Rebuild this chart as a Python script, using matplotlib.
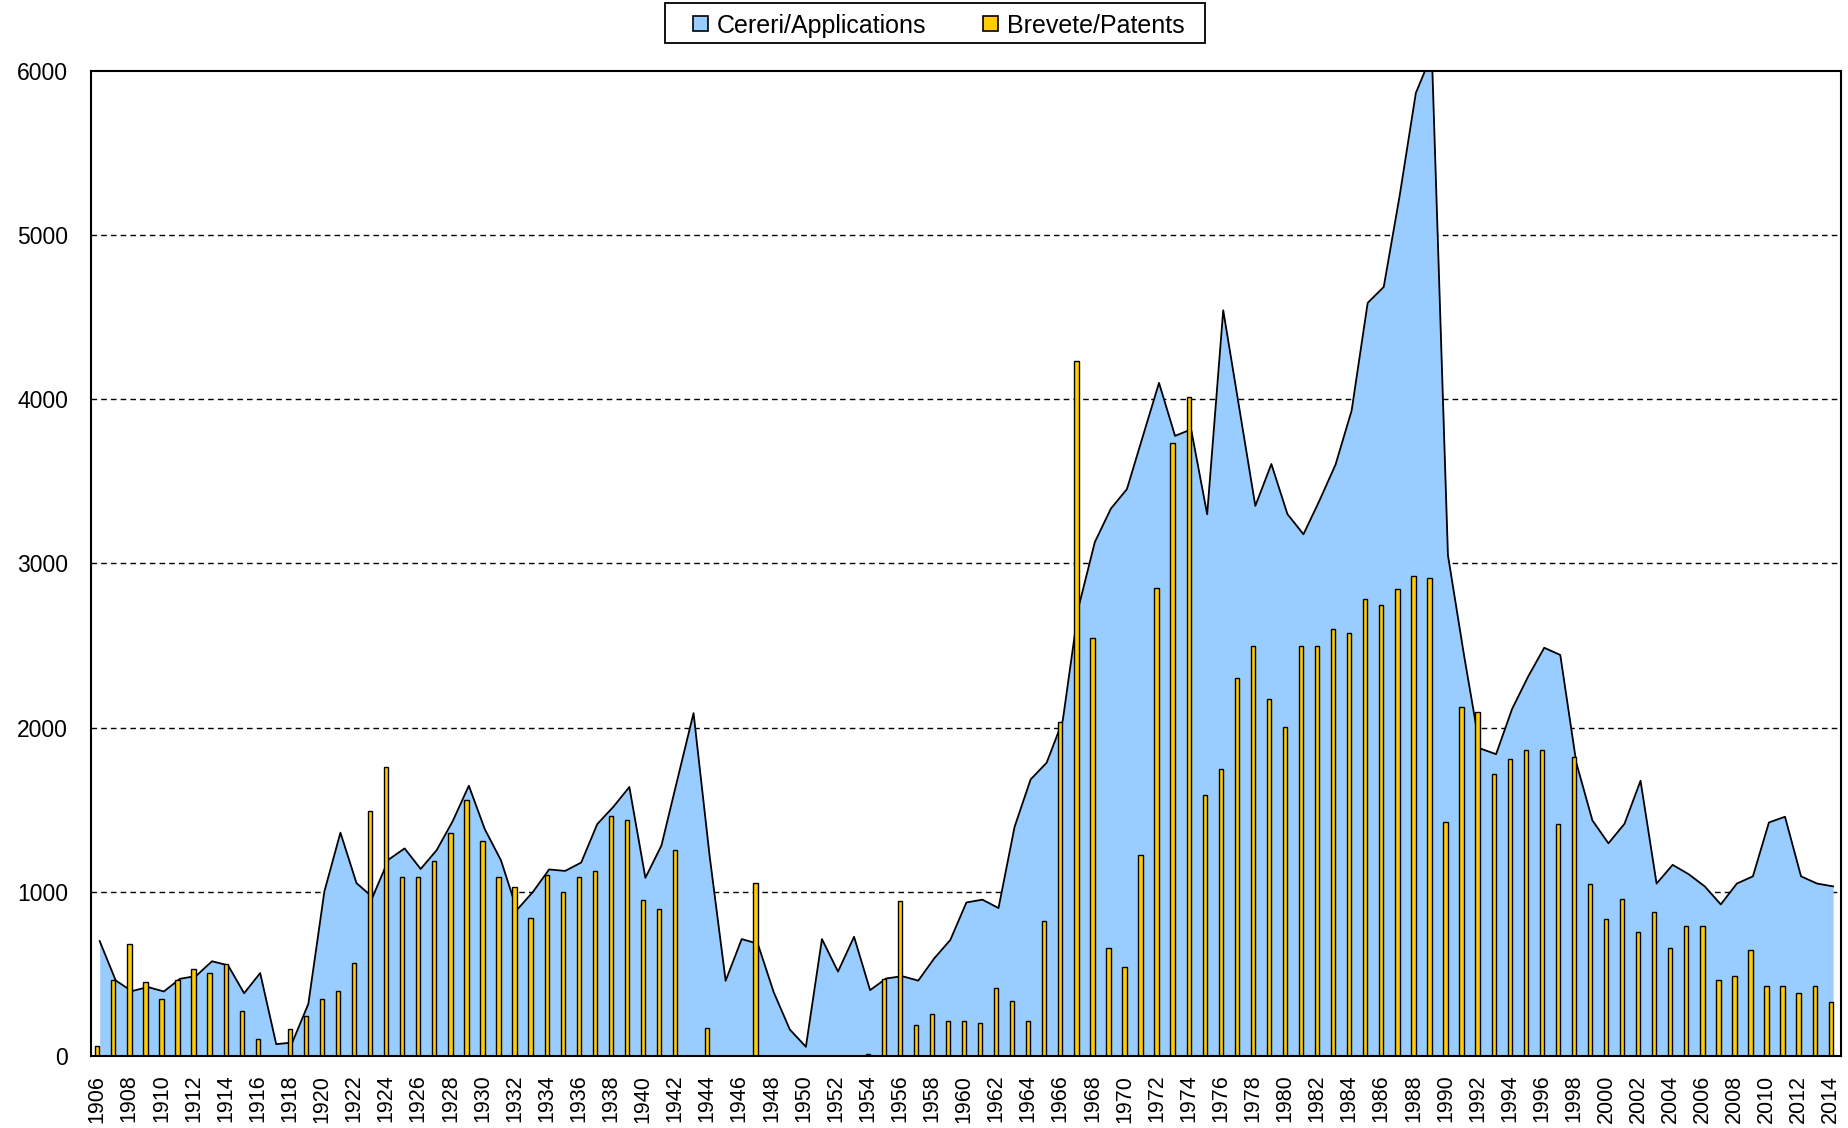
import numpy as np
import matplotlib
matplotlib.use("Agg")
import matplotlib.pyplot as plt
from matplotlib.patches import Rectangle

years = np.arange(1906, 2015)

# Cereri / Applications (area)
applications = [
    700, 460, 395, 420, 393, 470, 487, 577, 552, 382,      # 1906-1915
    505, 72, 82, 317, 1002, 1360, 1053, 967, 1196, 1264,   # 1916-1925
    1139, 1254, 1431, 1646, 1380, 1192, 890, 1000, 1136, 1127,  # 1926-1935
    1178, 1412, 1517, 1638, 1085, 1282, 1686, 2088, 1220, 458,  # 1936-1945
    712, 684, 387, 161, 56, 712, 514, 726, 401, 472,       # 1946-1955
    486, 459, 595, 707, 935, 952, 901, 1395, 1684, 1786,   # 1956-1965
    2041, 2738, 3129, 3333, 3452, 3776, 4099, 3776, 3816, 3299,  # 1966-1975
    4541, 3946, 3350, 3605, 3300, 3177, 3383, 3602, 3930, 4586,  # 1976-1985
    4683, 5243, 5864, 6100, 3050, 2442, 1873, 1838, 2114, 2311,  # 1986-1995
    2486, 2442, 1785, 1435, 1295, 1414, 1676, 1050, 1164, 1107,  # 1996-2005
    1033, 923, 1050, 1094, 1422, 1457, 1094, 1050, 1033,   # 2006-2014
]

# Brevete / Patents (bars)
patents = [
    61, 460, 681, 450, 348, 460, 528, 507, 562, 276,       # 1906-1915
    102, 0, 164, 241, 348, 393, 566, 1493, 1759, 1090,     # 1916-1925
    1090, 1186, 1356, 1560, 1311, 1093, 1031, 839, 1102, 1000,  # 1926-1935
    1093, 1127, 1460, 1438, 952, 895, 1254, 0, 169, 0,     # 1936-1945
    0, 1056, 0, 0, 0, 0, 0, 0, 10, 470,                    # 1946-1955
    945, 187, 258, 211, 211, 200, 415, 337, 211, 820,      # 1956-1965
    2034, 4235, 2544, 656, 544, 1221, 2850, 3735, 4010, 1588,  # 1966-1975
    1748, 2299, 2497, 2177, 2002, 2494, 2494, 2600, 2578, 2783,  # 1976-1985
    2748, 2845, 2923, 2910, 1427, 2127, 2092, 1716, 1807, 1864,  # 1986-1995
    1864, 1414, 1821, 1050, 832, 954, 757, 875, 656, 792,  # 1996-2005
    792, 464, 486, 648, 429, 429, 385, 429, 328,           # 2006-2014
]

labels = ["Cereri/Applications", "Brevete/Patents"]

applications = np.array(applications, dtype=float)
patents = np.array(patents, dtype=float)

area_color = "#99CCFF"
bar_color = "#FFCC00"
W, H = 1849, 1128
fonts = ["Liberation Sans", "DejaVu Sans"]

fig = plt.figure(figsize=(W / 100, H / 100), dpi=100)
ax = fig.add_axes([0.04922, 0.06383, 0.94646, 0.87349])

# area series sits slightly right of the bar centres
ax.fill_between(years + 0.15, applications, 0, color=area_color, linewidth=0, zorder=1)
ax.plot(years + 0.15, applications, color="black", linewidth=1.3, zorder=2)

mask = patents > 0
ax.bar(years[mask], patents[mask], width=0.27, color=bar_color,
       edgecolor="black", linewidth=1.0, zorder=3)

ax.set_xlim(1905.61, 2014.64)
ax.set_ylim(0, 6000)

ax.set_yticks(np.arange(0, 6001, 1000))
ax.set_yticklabels([str(v) for v in range(0, 6001, 1000)], fontsize=16.5, family=fonts)
ax.set_xticks(years[::2])
ax.set_xticklabels([str(y) for y in years[::2]], rotation=90, fontsize=15.5, family=fonts)
ax.tick_params(axis="y", length=0, pad=16.5)
ax.tick_params(axis="x", length=0, pad=13.5)

for v in range(1000, 6000, 1000):
    ax.axhline(v, color="black", linewidth=1.0, linestyle=(0, (4, 3)), zorder=0.5)

for sp in ax.spines.values():
    sp.set_linewidth(1.5)
    sp.set_color("black")
    sp.set_zorder(5)

# legend box drawn by hand, in pixel positions of the figure
def fx(x):
    return x / W

def fy(y):
    return 1 - y / H

fig.patches.append(Rectangle((fx(664.6), fy(43)), fx(1205.5) - fx(664.6), fy(3) - fy(43),
                             transform=fig.transFigure, facecolor="white",
                             edgecolor="black", linewidth=1.3))
for mx, tx, col, lab in [(693, 716.5, area_color, labels[0]),
                         (983, 1007, bar_color, labels[1])]:
    fig.patches.append(Rectangle((fx(mx), fy(30.5)), fx(mx + 15) - fx(mx), fy(15.5) - fy(30.5),
                                 transform=fig.transFigure, facecolor=col,
                                 edgecolor="black", linewidth=1.2))
    fig.text(fx(tx), fy(23.5), lab, fontsize=18, family=fonts, ha="left", va="center_baseline")

fig.savefig("out.png", dpi=100)
